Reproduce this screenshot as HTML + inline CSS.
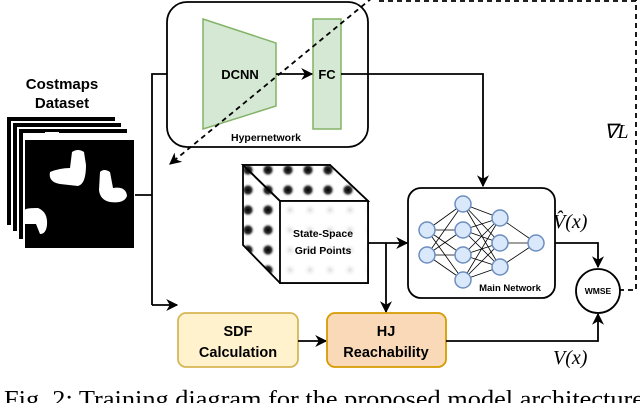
<!DOCTYPE html>
<html><head><style>
body{margin:0;background:#fff;width:640px;height:403px;overflow:hidden}
text{font-family:"Liberation Sans",sans-serif;font-weight:bold}
.m{font-family:"Liberation Serif",serif;font-weight:normal;font-style:italic}
</style></head><body>
<svg width="640" height="403" viewBox="0 0 640 403" xmlns="http://www.w3.org/2000/svg">
<defs>
<marker id="b" viewBox="0 0 10 10" refX="9" refY="5" markerWidth="12" markerHeight="12" orient="auto" markerUnits="userSpaceOnUse"><path d="M0,0 L10,5 L0,10 L3,5 z" fill="#000"/></marker>
<radialGradient id="g"><stop offset="0" stop-color="#000"/><stop offset="0.5" stop-color="#333"/><stop offset="1" stop-color="#fff" stop-opacity="0"/></radialGradient>
<radialGradient id="gf"><stop offset="0" stop-color="#ddd"/><stop offset="1" stop-color="#fff" stop-opacity="0"/></radialGradient>
<pattern id="dots" width="20" height="20" patternUnits="userSpaceOnUse" x="240" y="162"><rect width="20" height="20" fill="#fff"/><circle cx="8" cy="8" r="7" fill="url(#g)"/></pattern>
<pattern id="dotsf" width="20" height="20" patternUnits="userSpaceOnUse" x="282" y="202"><rect width="20" height="20" fill="#fff"/><circle cx="8" cy="8" r="7" fill="url(#gf)"/></pattern>
</defs>
<text x="62" y="89" font-size="15" text-anchor="middle">Costmaps</text>
<text x="62" y="108" font-size="15" text-anchor="middle">Dataset</text>
<rect x="7" y="117" width="108" height="108" fill="#000"/>
<rect x="11" y="121" width="106" height="108" fill="#fff"/>
<rect x="13" y="123" width="108" height="108" fill="#000"/>
<rect x="17" y="127" width="106" height="108" fill="#fff"/>
<rect x="19" y="129" width="108" height="110" fill="#000"/>
<rect x="23" y="133" width="106" height="108" fill="#fff"/>
<rect x="25" y="140" width="109" height="108" fill="#000"/>
<rect x="45" y="132" width="14" height="8" fill="#fff"/>
<path d="M50,172 Q60,168 70,168 L72,152 Q78,148 84,152 L86,165 Q86,184 78,186 L60,184 Q48,182 50,172 Z" fill="#fff"/>
<path d="M100,172 Q104,168 110,172 L113,188 Q126,186 127,196 Q124,204 110,202 Q100,200 99,190 Z" fill="#fff"/>
<path d="M25,210 Q25,208 38,208 Q48,212 47,225 Q46,234 40,234 L36,224 L25,224 Z" fill="#fff"/>
<g stroke="#000" stroke-width="1.8" fill="none">
<path d="M135,195 H152"/>
<path d="M152,305 V74 H202" marker-end="url(#b)"/>
<path d="M152,305 H177" marker-end="url(#b)"/>
</g>
<rect x="167" y="2" width="201" height="145" rx="20" fill="#fff" stroke="#000" stroke-width="1.8"/>
<polygon points="203,19 276,43 276,106 203,129" fill="#d5e8d4" stroke="#82b366" stroke-width="1.5"/>
<text x="240" y="79" font-size="13" text-anchor="middle">DCNN</text>
<rect x="313" y="19" width="28" height="110" fill="#d5e8d4" stroke="#82b366" stroke-width="1.5"/>
<text x="327" y="79" font-size="13" text-anchor="middle">FC</text>
<path d="M276,74 H312" stroke="#000" stroke-width="1.8" marker-end="url(#b)"/>
<text x="266" y="141" font-size="10.5" text-anchor="middle">Hypernetwork</text>
<path d="M341,74 H483 V186" stroke="#000" stroke-width="1.8" fill="none" marker-end="url(#b)"/>
<g stroke="#000" stroke-width="1.8" fill="none" stroke-dasharray="5,4">
<path d="M619,290 H636 V0"/>
<path d="M636,1 H375"/>
<path d="M372,-2 L170,164" marker-end="url(#b)"/>
</g>
<text x="604" y="138" font-size="20" class="m">∇L</text>
<polygon points="243,165 330,165 368,201 368,283 280,283 243,245" fill="url(#dots)" stroke="#000" stroke-width="1.8"/>
<polygon points="243,165 330,165 368,201 280,201" fill="url(#dots)" stroke="#000" stroke-width="1.8"/>
<rect x="280" y="201" width="88" height="82" fill="url(#dotsf)" stroke="#000" stroke-width="1.8"/>
<line x1="243" y1="165" x2="280" y2="201" stroke="#000" stroke-width="1.8"/>
<text x="323" y="237" font-size="10.5" text-anchor="middle">State-Space</text>
<text x="323" y="254" font-size="10.5" text-anchor="middle">Grid Points</text>
<path d="M368,243 H407" stroke="#000" stroke-width="1.8" marker-end="url(#b)"/>
<path d="M386,243 V312" stroke="#000" stroke-width="1.8" marker-end="url(#b)"/>
<rect x="408" y="188" width="147" height="110" rx="13" fill="#fff" stroke="#000" stroke-width="1.8"/>
<g stroke="#000" stroke-width="0.8">
<path d="M427,230 L463,204 M427,230 L463,230 M427,230 L463,255 M427,230 L463,280 M427,255 L463,204 M427,255 L463,230 M427,255 L463,255 M427,255 L463,280"/>
<path d="M463,204 L500,218 M463,204 L500,243 M463,204 L500,267 M463,230 L500,218 M463,230 L500,243 M463,230 L500,267 M463,255 L500,218 M463,255 L500,243 M463,255 L500,267 M463,280 L500,218 M463,280 L500,243 M463,280 L500,267"/>
<path d="M500,218 L536,243 M500,243 L536,243 M500,267 L536,243"/>
</g>
<g fill="#dae8fc" stroke="#6c8ebf" stroke-width="1.5">
<circle cx="427" cy="230" r="8"/><circle cx="427" cy="255" r="8"/>
<circle cx="463" cy="204" r="8"/><circle cx="463" cy="230" r="8"/><circle cx="463" cy="255" r="8"/><circle cx="463" cy="280" r="8"/>
<circle cx="500" cy="218" r="8"/><circle cx="500" cy="243" r="8"/><circle cx="500" cy="267" r="8"/>
<circle cx="536" cy="243" r="8"/>
</g>
<text x="510" y="291" font-size="9.5" text-anchor="middle">Main Network</text>
<path d="M555,243 H598 V267" stroke="#000" stroke-width="1.8" fill="none" marker-end="url(#b)"/>
<text x="553" y="228" font-size="20" class="m">V̂(x)</text>
<circle cx="598" cy="291" r="22" fill="#fff" stroke="#000" stroke-width="1.8"/>
<text x="598" y="294" font-size="8.5" text-anchor="middle">WMSE</text>
<rect x="178" y="313" width="120" height="54" rx="8" fill="#fff2cc" stroke="#d6b656" stroke-width="1.8"/>
<text x="238" y="336" font-size="14.5" text-anchor="middle">SDF</text>
<text x="238" y="357" font-size="14.5" text-anchor="middle">Calculation</text>
<path d="M298,341 H326" stroke="#000" stroke-width="1.8" marker-end="url(#b)"/>
<rect x="327" y="313" width="119" height="54" rx="8" fill="#fad9b8" stroke="#d79b00" stroke-width="1.8"/>
<text x="386" y="336" font-size="14.5" text-anchor="middle">HJ</text>
<text x="386" y="357" font-size="14.5" text-anchor="middle">Reachability</text>
<path d="M446,341 H598 V314" stroke="#000" stroke-width="1.8" fill="none" marker-end="url(#b)"/>
<text x="553" y="364" font-size="20" class="m">V(x)</text>
<text x="4" y="407" font-size="24" textLength="640" lengthAdjust="spacingAndGlyphs" style="font-family:'Liberation Serif',serif;font-weight:normal">Fig. 2: Training diagram for the proposed model architecture</text>
</svg>
</body></html>
